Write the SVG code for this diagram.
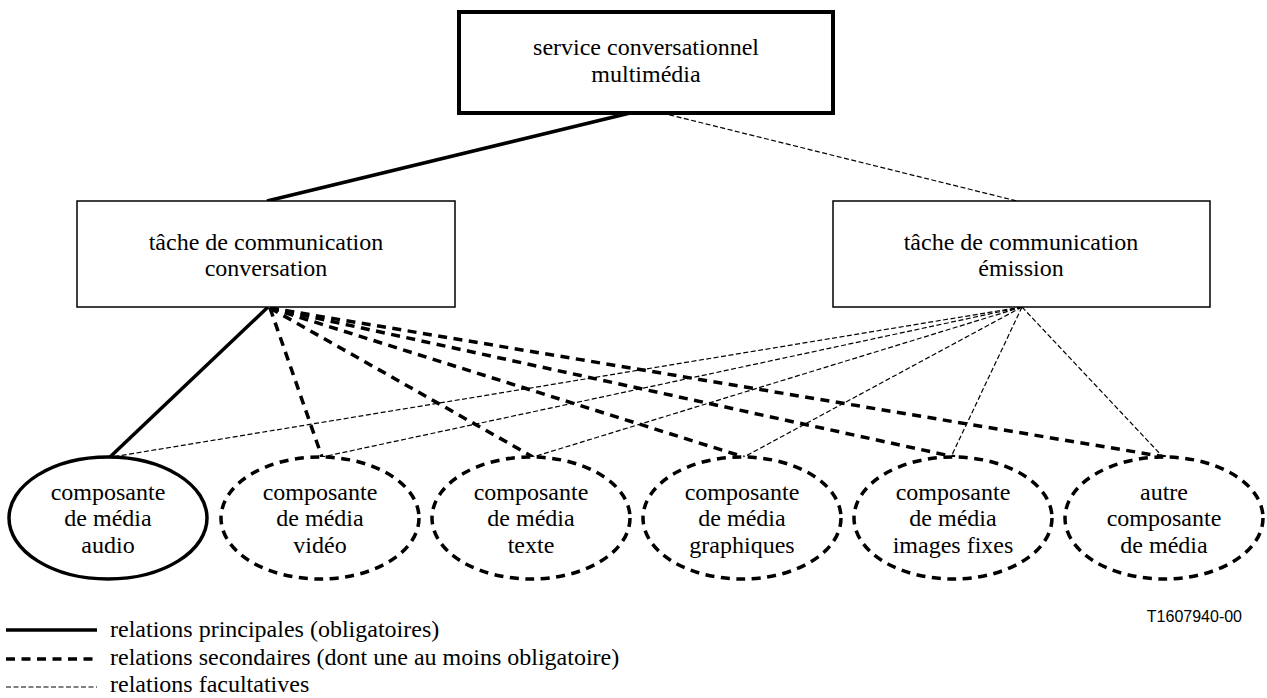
<svg xmlns="http://www.w3.org/2000/svg" width="1267" height="698" viewBox="0 0 1267 698">
<style>
text{font-family:"Liberation Serif","Times New Roman",serif;font-size:24px;fill:#000;text-anchor:middle}
.box{fill:#fff;stroke:#000;stroke-width:1.5}
.boxb{fill:#fff;stroke:#000;stroke-width:4}
.ell{fill:#fff;stroke:#000;stroke-width:3.5}
.elld{fill:#fff;stroke:#000;stroke-width:3.5;stroke-dasharray:9 6.5}
.main{stroke:#000;stroke-width:3.5;fill:none}
.sec{stroke:#000;stroke-width:3.5;stroke-dasharray:9 6.5;fill:none}
.opt{stroke:#000;stroke-width:1.2;stroke-dasharray:5 2.5;fill:none}
.leg{text-anchor:start}
.id{font-family:"Liberation Sans",Arial,sans-serif;font-size:16px;text-anchor:end}
</style>
<g id="connectors">
<line class="main" x1="630" y1="113" x2="267" y2="201"/>
<line class="opt" x1="662" y1="113" x2="1017" y2="201"/>
<line class="main" x1="268" y1="307" x2="110" y2="457"/>
<line class="sec" x1="270" y1="308" x2="322" y2="457"/>
<line class="sec" x1="270" y1="308" x2="533" y2="457"/>
<line class="sec" x1="270" y1="308" x2="744" y2="457"/>
<line class="sec" x1="270" y1="308" x2="955" y2="457"/>
<line class="sec" x1="270" y1="308" x2="1166" y2="457"/>
<line class="opt" x1="1022" y1="307" x2="112" y2="457"/>
<line class="opt" x1="1022" y1="307" x2="322" y2="457"/>
<line class="opt" x1="1022" y1="307" x2="533" y2="457"/>
<line class="opt" x1="1022" y1="307" x2="744" y2="457"/>
<line class="opt" x1="1022" y1="307" x2="951" y2="457"/>
<line class="opt" x1="1022" y1="307" x2="1163" y2="457"/>
</g>
<g id="service">
<rect class="boxb" x="459" y="12" width="374" height="101"/>
<text x="646" y="55">service conversationnel</text>
<text x="646" y="82">multimédia</text>
</g>
<g id="conversation">
<rect class="box" x="77" y="201" width="378" height="106"/>
<text x="266" y="250">tâche de communication</text>
<text x="266" y="276">conversation</text>
</g>
<g id="emission">
<rect class="box" x="833" y="201" width="377" height="106"/>
<text x="1021" y="250">tâche de communication</text>
<text x="1021" y="276">émission</text>
</g>
<g id="audio">
<ellipse class="ell" cx="108" cy="518" rx="99" ry="61"/>
<text x="108" y="500">composante</text>
<text x="108" y="526">de média</text>
<text x="108" y="553">audio</text>
</g>
<g id="video">
<ellipse class="elld" cx="320" cy="518" rx="99" ry="61"/>
<text x="320" y="500">composante</text>
<text x="320" y="526">de média</text>
<text x="320" y="553">vidéo</text>
</g>
<g id="texte">
<ellipse class="elld" cx="531" cy="518" rx="99" ry="61"/>
<text x="531" y="500">composante</text>
<text x="531" y="526">de média</text>
<text x="531" y="553">texte</text>
</g>
<g id="graphiques">
<ellipse class="elld" cx="742" cy="518" rx="99" ry="61"/>
<text x="742" y="500">composante</text>
<text x="742" y="526">de média</text>
<text x="742" y="553">graphiques</text>
</g>
<g id="images">
<ellipse class="elld" cx="953" cy="518" rx="99" ry="61"/>
<text x="953" y="500">composante</text>
<text x="953" y="526">de média</text>
<text x="953" y="553">images fixes</text>
</g>
<g id="autre">
<ellipse class="elld" cx="1164" cy="518" rx="99" ry="61"/>
<text x="1164" y="500">autre</text>
<text x="1164" y="526">composante</text>
<text x="1164" y="553">de média</text>
</g>
<g id="legend">
<line class="main" x1="6" y1="630" x2="97" y2="630" stroke-width="4"/>
<text class="leg" x="110" y="637">relations principales (obligatoires)</text>
<line class="sec" x1="6" y1="659" x2="97" y2="659"/>
<text class="leg" x="110" y="665">relations secondaires (dont une au moins obligatoire)</text>
<line class="opt" x1="6" y1="687" x2="97" y2="687"/>
<text class="leg" x="110" y="692">relations facultatives</text>
</g>
<text class="id" x="1242" y="622">T1607940-00</text>
</svg>
